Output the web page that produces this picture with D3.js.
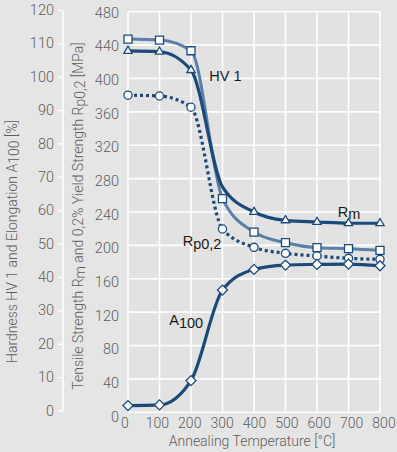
<!DOCTYPE html>
<html><head><meta charset="utf-8">
<script src="https://cdn.jsdelivr.net/npm/d3@7"></script>
<style>
body{margin:0;background:#e5e5e5;}
svg{display:block;}
.light{font-family:Roboto,"Liberation Sans",sans-serif;font-weight:300;fill:#5e5e5e;}
.lab{font-family:"Liberation Sans",Arial,sans-serif;font-weight:400;fill:#1a1a1a;}
</style>
</head><body>
<svg id="c" width="397" height="452"></svg>
<script>
// ---- data ----
const temps = [0, 100, 200, 300, 400, 500, 600, 700, 800];
const hardnessHV1 = [111.8, 111.5, 108.3, 64, 54, 50.8, 49.3, 49, 48.5];          // left axis units
const tensileRm = [433, 432, 410, 270, 240, 230, 228, 226.5, 226.5];               // MPa
const rmMarked = [true, true, true, false, true, true, true, true, true];
const yieldRp02 = [380, 379, 365.5, 219.6, 197.7, 190.5, 187.3, 184.5, 183.3];    // MPa
const elongationA100 = [2, 2.2, 9.5, 36.6, 42.8, 44.1, 44.3, 44.4, 43.9];          // left axis units
const xTicks = [0, 100, 200, 300, 400, 500, 600, 700, 800];
const leftTicks = [0, 10, 20, 30, 40, 50, 60, 70, 80, 90, 100, 110, 120];
const rightTicks = [0, 40, 80, 120, 160, 200, 240, 280, 320, 360, 400, 440, 480];

const svg = d3.select("#c");
const W = 397, H = 452;
svg.append("rect").attr("width", W).attr("height", H).attr("fill", "#e5e5e5");

const x = d3.scaleLinear().domain([0, 800]).range([128, 380]);
const yR = d3.scaleLinear().domain([0, 480]).range([412.3, 11.7]);
const yL = d3.scaleLinear().domain([0, 120]).range([412.3, 11.7]);
const yLaxis = d3.scaleLinear().domain([0, 120]).range([410.5, 9.8]);
const yRlab = d3.scaleLinear().domain([0, 480]).range([416.5, 12.5]);
const xLab = d3.scaleLinear().domain([0, 800]).range([125, 384]);

const dark = "#1b4a7a", lightBlue = "#5b7fa6";

// plot background
svg.append("rect").attr("x", x(0)).attr("y", yR(480))
  .attr("width", x(800) - x(0)).attr("height", yR(0) - yR(480)).attr("fill", "#e2e2e2");

// grid
const grid = svg.append("g").attr("stroke", "#fff").attr("stroke-width", 1.6);
grid.selectAll("line.h").data(rightTicks).join("line")
  .attr("x1", x(0)).attr("x2", x(800)).attr("y1", d => yR(d)).attr("y2", d => yR(d));
grid.selectAll("line.v").data(xTicks).join("line")
  .attr("x1", d => x(d)).attr("x2", d => x(d)).attr("y1", yR(0)).attr("y2", yR(480));

// left axis
const la = svg.append("g").attr("transform", "translate(62.5,0)")
  .call(d3.axisLeft(yLaxis).tickValues(leftTicks).tickSize(4).tickSizeOuter(0).tickPadding(4.5));
la.select(".domain").attr("stroke", "#fff").attr("stroke-width", 1.5);
la.selectAll(".tick line").attr("stroke", "#fff").attr("stroke-width", 1.5);
la.selectAll(".tick text").attr("class", "light").attr("font-size", 14.5);

// right (second) axis labels
svg.append("g").selectAll("text").data(rightTicks).join("text")
  .attr("class", "light").attr("font-size", 14.5)
  .attr("x", 119).attr("y", d => yRlab(d)).attr("dy", "0.35em")
  .attr("text-anchor", "end").text(d => d);

// x labels
svg.append("g").selectAll("text").data(xTicks).join("text")
  .attr("class", "light").attr("font-size", 14)
  .attr("x", d => xLab(d)).attr("y", 423.5).attr("dy", "0.35em")
  .attr("text-anchor", "middle").text(d => d);

// axis titles
svg.append("text").attr("class", "light").attr("font-size", 14)
  .attr("x", (x(0) + x(800)) / 2 - 2).attr("y", 441.5).attr("dy", "0.35em")
  .attr("text-anchor", "middle").text("Annealing Temperature [°C]");

const t1 = svg.append("text").attr("class", "light").attr("font-size", 14)
  .attr("transform", "translate(12.5,241.5) rotate(-90)").attr("dy", "0.35em")
  .attr("text-anchor", "middle");
t1.append("tspan").text("Hardness HV 1 and Elongation A");
t1.append("tspan").attr("dy", 1.5).text("100");
t1.append("tspan").attr("dy", -1.5).text(" [%]");

const t2 = svg.append("text").attr("class", "light").attr("font-size", 14)
  .attr("transform", "translate(78,216) rotate(-90)").attr("dy", "0.35em")
  .attr("text-anchor", "middle");
t2.append("tspan").text("Tensile Strength R");
t2.append("tspan").attr("dy", 2.5).text("m");
t2.append("tspan").attr("dy", -2.5).text(" and 0,2% Yield Strength R");
t2.append("tspan").attr("dy", 2.5).text("p0,2");
t2.append("tspan").attr("dy", -2.5).text(" [MPa]");

// series
const mk = (vals, ys) => temps.map((t, i) => ({ t, v: vals[i], y: ys(vals[i]), i }));
const hvPts = mk(hardnessHV1, yL);
const rmPts = mk(tensileRm, yR);
const rpPts = mk(yieldRp02, yR);
const aPts = mk(elongationA100, yL);

const line = d3.line().x(d => x(d.t)).y(d => d.y).curve(d3.curveMonotoneX);
const lines = svg.append("g").attr("fill", "none").attr("stroke-linecap", "butt");
lines.append("path").datum(hvPts).attr("d", line).attr("stroke", lightBlue).attr("stroke-width", 3);
lines.append("path").datum(rpPts).attr("d", line).attr("stroke", dark).attr("stroke-width", 3.2)
  .attr("stroke-dasharray", "3,3");
lines.append("path").datum(rmPts).attr("d", line).attr("stroke", dark).attr("stroke-width", 3.2);
lines.append("path").datum(aPts).attr("d", line).attr("stroke", dark).attr("stroke-width", 3.2);

const markers = svg.append("g").attr("fill", "#fff").attr("stroke", dark).attr("stroke-width", 1.3);
const sym = (type, size, rot) => d3.symbol().type(type).size(size);
markers.selectAll("path.sq").data(hvPts).join("path")
  .attr("d", d3.symbol(d3.symbolSquare, 64)())
  .attr("transform", d => `translate(${x(d.t)},${d.y})`);
markers.selectAll("path.tr").data(rmPts.filter(d => rmMarked[d.i])).join("path")
  .attr("d", d3.symbol(d3.symbolTriangle, 30)())
  .attr("transform", d => `translate(${x(d.t)},${d.y})`);
markers.selectAll("path.ci").data(rpPts).join("path")
  .attr("d", d3.symbol(d3.symbolCircle, 52)())
  .attr("transform", d => `translate(${x(d.t)},${d.y})`);
markers.selectAll("path.di").data(aPts).join("path")
  .attr("d", d3.symbol(d3.symbolSquare, 50)())
  .attr("transform", d => `translate(${x(d.t)},${d.y}) rotate(45)`);

// series labels (anchored in data units)
function label(t, v, main, sub, shift) {
  const el = svg.append("text").attr("class", "lab").attr("font-size", 14.5)
    .attr("x", x(t)).attr("y", yR(v));
  el.append("tspan").text(main);
  if (sub) el.append("tspan").attr("dy", shift).text(sub);
}
label(258, 397, "HV 1");
label(666, 234, "R", "m", 1.5);
label(173.7, 199.5, "R", "p0,2", 3);
label(131, 104.6, "A", "100", 3);
</script>
</body></html>
